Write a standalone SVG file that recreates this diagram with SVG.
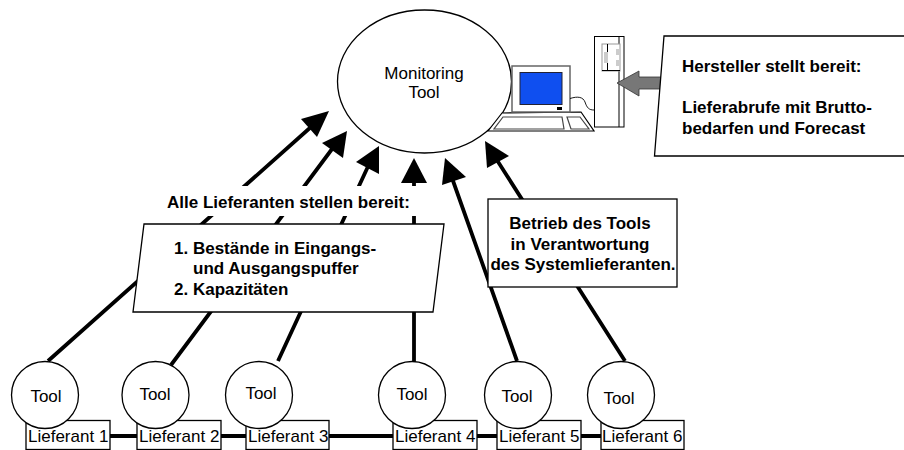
<svg xmlns="http://www.w3.org/2000/svg" width="904" height="450" viewBox="0 0 904 450">
<style>
text{font-family:"Liberation Sans",Arial,sans-serif;font-size:17px;fill:#000}
.b{font-weight:bold;font-size:17px}
.c{text-anchor:middle}
.n{fill:#fff;stroke:#000;stroke-width:1.3}
.l{fill:none;stroke:#000;stroke-width:3.8}
.h{fill:#000;stroke:none}
</style>
<rect width="904" height="450" fill="#fff"/>
<g id="connectors">
<path class="l" d="M48 361L316 122.500M171 365L338 141M278 361L371 160M414 362V170M517 361L452 178M625 361L495 157"/>
<polygon class="h" points="329,111 301,119 317,137"/>
<polygon class="h" points="347,131 322,143 343,158"/>
<polygon class="h" points="379,146 356,162 379,174"/>
<polygon class="h" points="414,158 401,183 427,183"/>
<polygon class="h" points="445,158 442,185 466,177"/>
<polygon class="h" points="485,141 487,168 509,156"/>
<path class="l" d="M110 436H137M221 436H246M329 436H393M477 436H497M581 436H601"/>
</g>
<g id="label-alle">
<rect x="160" y="186" width="262" height="30" fill="#fff"/>
<text class="b" x="167" y="208">Alle Lieferanten stellen bereit:</text>
</g>
<g id="box-bestaende">
<polygon class="n" points="144,224 444,224 433,312 133,312"/>
<text class="b" x="174" y="254">1. Bestände in Eingangs-</text>
<text class="b" x="193" y="274">und Ausgangspuffer</text>
<text class="b" x="174" y="295">2. Kapazitäten</text>
</g>
<g id="box-betrieb">
<rect class="n" x="488" y="199" width="189" height="88"/>
<text class="b c" x="580" y="229">Betrieb des Tools</text>
<text class="b c" x="580" y="250">in Verantwortung</text>
<text class="b c" x="583" y="270">des Systemlieferanten.</text>
</g>
<g id="monitoring-tool">
<ellipse class="n" cx="424.500" cy="81.500" rx="87" ry="71.500"/>
<text class="c" x="424" y="79">Monitoring</text>
<text class="c" x="424" y="98">Tool</text>
</g>
<g id="computer">
<polygon points="488,131 502,113 581,112 594,131" fill="#fff" stroke="#000" stroke-width="1.200"/>
<rect x="512" y="66" width="58" height="46" fill="#fff" stroke="#666" stroke-width="1.500"/>
<rect x="520" y="72.500" width="42" height="32" fill="#0f4ff0" stroke="#223" stroke-width="1"/>
<rect x="557" y="107" width="5" height="3" fill="#000"/>
<polygon points="503,117 562,117 564,129 494,129" fill="#fff" stroke="#444" stroke-width="1.200"/>
<polygon points="567,117 580,117 589,129 571,129" fill="#fff" stroke="#444" stroke-width="1.200"/>
<path d="M570 98.500C578 96 583 97 585 102C587 108 589 110 594 110" fill="none" stroke="#000" stroke-width="0.900"/>
<rect x="594.500" y="36.500" width="29.500" height="90.500" fill="#fff" stroke="#000" stroke-width="1"/>
<path d="M619 36.500V127" stroke="#000" stroke-width="1" fill="none"/>
<rect x="602" y="44" width="18" height="27" fill="#fff" stroke="#999" stroke-width="1"/>
<path d="M607.500 44V70M602 70.500H620" stroke="#000" stroke-width="1" fill="none"/>
<rect x="604" y="52" width="4" height="11" fill="#ccc"/>
<rect x="616" y="49" width="4" height="6" fill="#ccc"/>
<rect x="616" y="60" width="4" height="6" fill="#ccc"/>
</g>
<g id="arrow-hersteller">
<polygon points="617,83 639,71 639,77 662,77 662,89 639,89 639,96" fill="#777" stroke="#333" stroke-width="0.800"/>
</g>
<g id="box-hersteller">
<polygon class="n" points="664,36 906,36 906,156 654.500,156"/>
<text class="b" x="682" y="72">Hersteller stellt bereit:</text>
<text class="b" x="682" y="113">Lieferabrufe mit Brutto-</text>
<text class="b" x="682" y="134">bedarfen und Forecast</text>
</g>
<g id="lieferant-1"><rect class="n" x="26" y="420.500" width="84" height="29"/><text x="28" y="442">Lieferant 1</text><circle class="n" cx="45" cy="395" r="33.500"/><text class="c" x="46" y="402">Tool</text></g>
<g id="lieferant-2"><rect class="n" x="137" y="420.500" width="84" height="29"/><text x="139" y="442">Lieferant 2</text><circle class="n" cx="155.500" cy="395" r="33.500"/><text class="c" x="155" y="400">Tool</text></g>
<g id="lieferant-3"><rect class="n" x="246" y="420.500" width="83" height="29"/><text x="248" y="442">Lieferant 3</text><circle class="n" cx="259" cy="395" r="33.500"/><text class="c" x="261" y="399">Tool</text></g>
<g id="lieferant-4"><rect class="n" x="393" y="420.500" width="84" height="29"/><text x="395" y="442">Lieferant 4</text><circle class="n" cx="412" cy="395" r="33.500"/><text class="c" x="412" y="400">Tool</text></g>
<g id="lieferant-5"><rect class="n" x="497" y="420.500" width="84" height="29"/><text x="499" y="442">Lieferant 5</text><circle class="n" cx="518" cy="395" r="33.500"/><text class="c" x="517" y="402">Tool</text></g>
<g id="lieferant-6"><rect class="n" x="601" y="420.500" width="83" height="29"/><text x="602" y="442">Lieferant 6</text><circle class="n" cx="621" cy="395" r="33.500"/><text class="c" x="619" y="404">Tool</text></g>
</svg>
